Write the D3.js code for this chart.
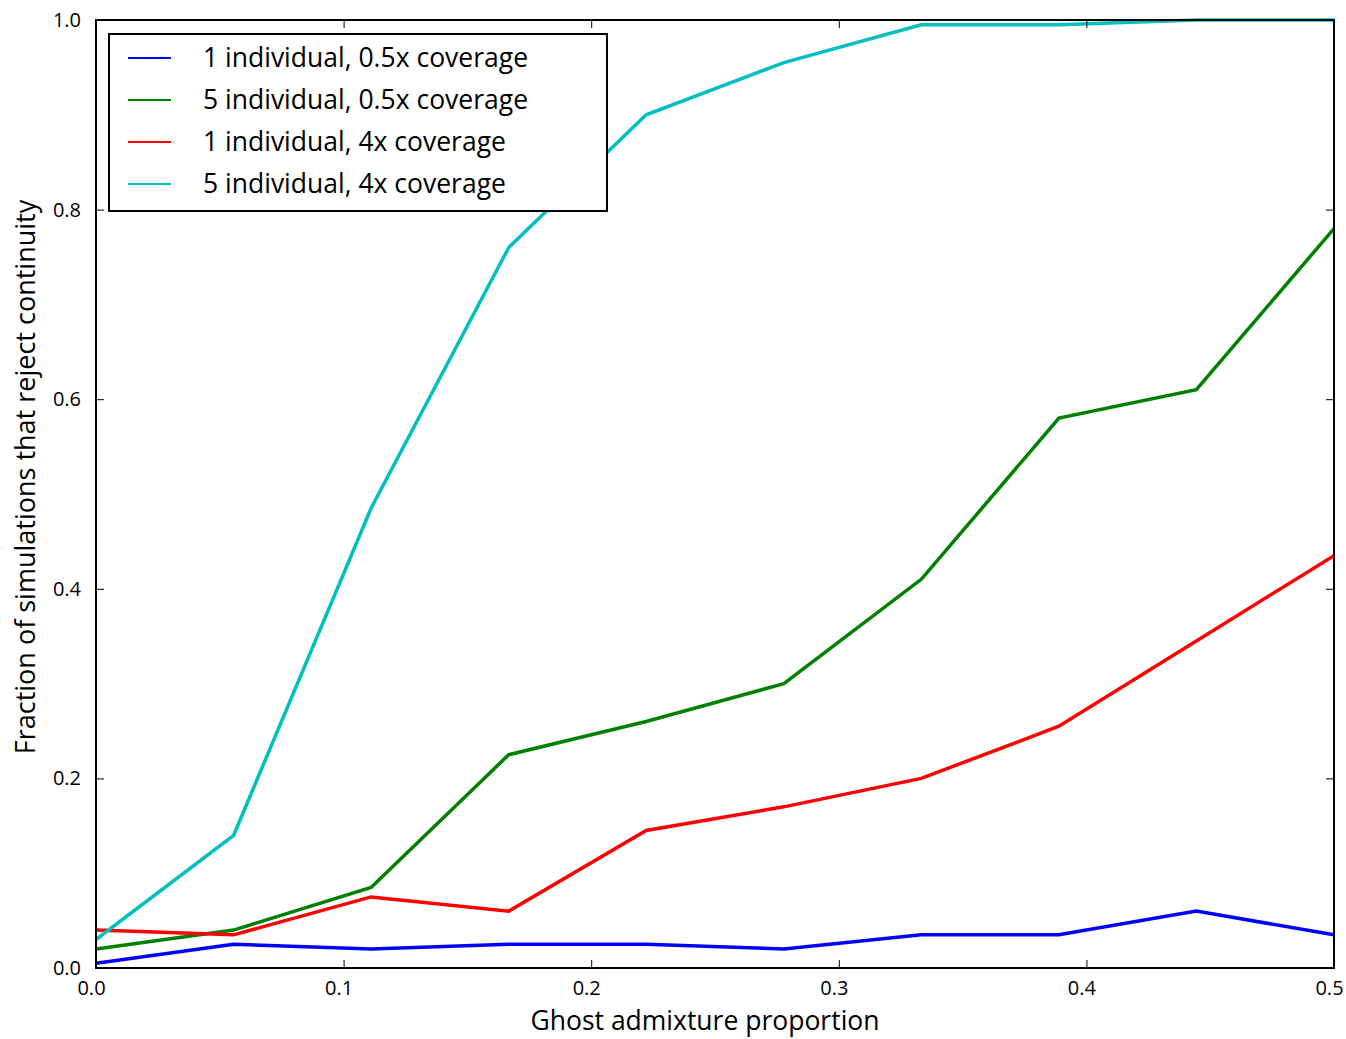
<!DOCTYPE html>
<html><head><meta charset="utf-8">
<script src="https://cdn.jsdelivr.net/npm/d3@7"></script>
<style>body{margin:0;background:#fff;} text{font-family:"Open Sans","Lato",sans-serif;}</style>
</head><body>
<svg id="chart" width="1346" height="1039"></svg>
<script>
const xValues = [0, 0.0556, 0.1111, 0.1667, 0.2222, 0.2778, 0.3333, 0.3889, 0.4444, 0.5];
const blue1ind05x = [0.005, 0.025, 0.02, 0.025, 0.025, 0.02, 0.035, 0.035, 0.06, 0.035];
const green5ind05x = [0.02, 0.04, 0.085, 0.225, 0.26, 0.30, 0.41, 0.58, 0.61, 0.78];
const red1ind4x = [0.04, 0.035, 0.075, 0.06, 0.145, 0.17, 0.20, 0.255, 0.345, 0.435];
const cyan5ind4x = [0.03, 0.14, 0.485, 0.76, 0.90, 0.955, 0.995, 0.995, 1.0, 1.0];
const seriesNames = ["1 individual, 0.5x coverage", "5 individual, 0.5x coverage", "1 individual, 4x coverage", "5 individual, 4x coverage"];
const seriesColors = ["#0000ff", "#008000", "#ff0000", "#00bfbf"];
const xTicks = [0, 0.1, 0.2, 0.3, 0.4, 0.5];
const yTicks = [0, 0.2, 0.4, 0.6, 0.8, 1.0];

const series = [blue1ind05x, green5ind05x, red1ind4x, cyan5ind4x];
const svg = d3.select("#chart");
const L = 96, R = 1334, T = 20, B = 968;
const x = d3.scaleLinear().domain([0, 0.5]).range([L, R]);
const y = d3.scaleLinear().domain([0, 1]).range([B, T]);

const g = svg.append("g");
svg.append("clipPath").attr("id","clip").append("rect").attr("x",L).attr("y",T-2).attr("width",R-L).attr("height",B-T+4);

const line = d3.line().x((d,i)=>x(xValues[i])).y(d=>y(d));
series.forEach((s,k)=>{
  g.append("path").datum(s).attr("d", line).attr("fill","none")
   .attr("stroke", seriesColors[k]).attr("stroke-width",3.5).attr("stroke-linejoin","miter")
   .attr("clip-path","url(#clip)");
});

const fmt = d3.format(".1f");
const axB = d3.axisBottom(x).tickValues(xTicks).tickSize(-8).tickPadding(13).tickFormat(fmt);
const axT = d3.axisTop(x).tickValues(xTicks).tickSize(-8).tickFormat("");
const axL = d3.axisLeft(y).tickValues(yTicks).tickSize(-8).tickPadding(15).tickFormat(fmt);
const axR = d3.axisRight(y).tickValues(yTicks).tickSize(-8).tickFormat("");
function style(sel){
  sel.select(".domain").remove();
  sel.selectAll("line").attr("stroke","#000").attr("stroke-width",1);
  sel.selectAll("text").attr("font-size",20).attr("fill","#000").style("font-family",'"Open Sans",sans-serif');
}
svg.append("g").attr("transform",`translate(0,${B})`).call(axB).call(style)
  .selectAll("text").attr("dx",-5);
svg.append("g").attr("transform",`translate(0,${T})`).call(axT).call(style);
svg.append("g").attr("transform",`translate(${L},0)`).call(axL).call(style);
svg.append("g").attr("transform",`translate(${R},0)`).call(axR).call(style);

svg.append("rect").attr("x",L).attr("y",T).attr("width",R-L).attr("height",B-T)
  .attr("fill","none").attr("stroke","#000").attr("stroke-width",2);

svg.append("text").attr("x",705).attr("y",1030).attr("text-anchor","middle")
  .attr("font-size",26.5).attr("fill","#000").text("Ghost admixture proportion");
svg.append("text").attr("transform",`translate(35,${477}) rotate(-90)`).attr("text-anchor","middle")
  .attr("font-size",27).attr("fill","#000").text("Fraction of simulations that reject continuity");

const lg = svg.append("g");
lg.append("rect").attr("x",109).attr("y",34).attr("width",498).attr("height",177)
  .attr("fill","#fff").attr("stroke","#000").attr("stroke-width",2);
seriesNames.forEach((n,k)=>{
  const yy = 58 + k*42;
  lg.append("line").attr("x1",128).attr("x2",171).attr("y1",yy).attr("y2",yy)
    .attr("stroke",seriesColors[k]).attr("stroke-width",2);
  lg.append("text").attr("x",203).attr("y",yy).attr("dy","0.35em").attr("font-size",26.5)
    .attr("fill","#000").text(n);
});
</script>
</body></html>
